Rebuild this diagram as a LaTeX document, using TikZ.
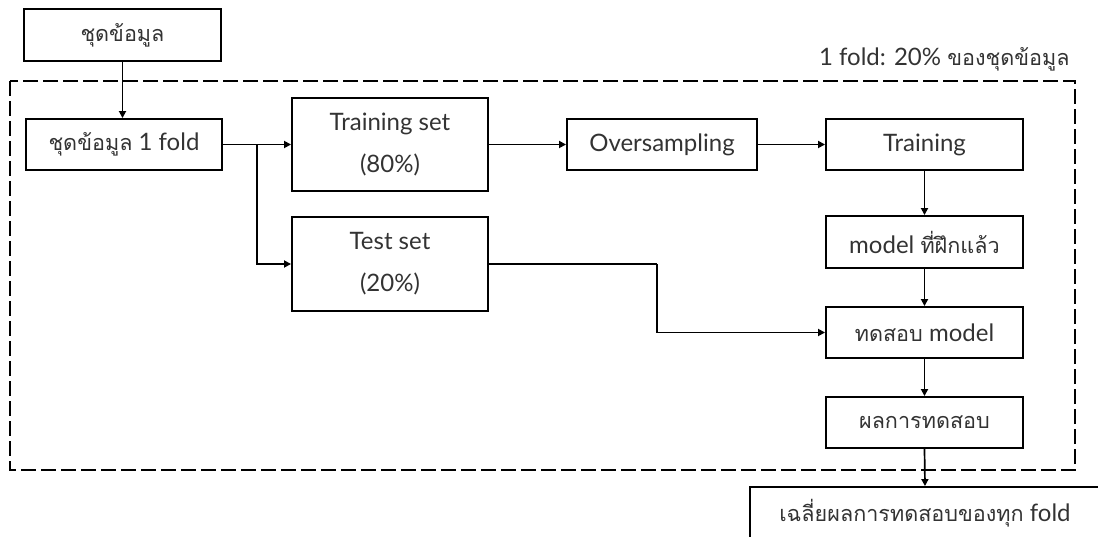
\documentclass[tikz,border=0pt]{standalone}
\usepackage{fontspec}
\setmainfont{Lato}
\newfontfamily\thai[Script=Thai, Scale=0.9]{Loma}
\usetikzlibrary{arrows.meta}
\definecolor{ink}{HTML}{333333}
\tikzset{
  stepbox/.style={draw=black, line width=1.9pt, text=ink, font=\fontsize{24}{42}\selectfont,
    inner sep=0pt, align=center, anchor=center},
  flow/.style={draw=black, line width=1.7pt, -{Triangle[length=7pt,width=7pt]}},
  plainline/.style={draw=black, line width=1.7pt},
  foldframe/.style={draw=black, line width=1.9pt, dash pattern=on 15pt off 5pt}
}
\begin{document}
\begin{tikzpicture}[x=1pt,y=-1pt]
  \useasboundingbox (0,0) rectangle (1098,537);
  \clip (0,0) rectangle (1098,537);

  % fold boundary
  \draw[foldframe] (10,81) rectangle (1075,470);
  \node[text=ink, font=\fontsize{24}{28}\selectfont, anchor=base east] (foldlabel) at (1073,66) {1 fold: 20\% {\thai ของชุดข้อมูล}};

  % process boxes
  \node[stepbox, minimum width=197pt, minimum height=52pt] (data) at (122.5,35) {\thai ชุดข้อมูล};
  \node[stepbox, minimum width=196pt, minimum height=51pt] (fold) at (124,144.5) {{\thai ชุดข้อมูล} 1 fold};
  \node[stepbox, minimum width=196pt, minimum height=93pt] (train) at (390,144.5) {Training set\\(80\%)};
  \node[stepbox, minimum width=196pt, minimum height=94pt] (test) at (390,264) {Test set\\(20\%)};
  \node[stepbox, minimum width=190pt, minimum height=51pt] (over) at (662,144.5) {Oversampling};
  \node[stepbox, minimum width=197pt, minimum height=51pt] (training) at (924.5,144.5) {Training};
  \node[stepbox, minimum width=197pt, minimum height=52pt] (model) at (924.5,242) {model {\thai ที่ฝึกแล้ว}};
  \node[stepbox, minimum width=197pt, minimum height=51pt] (testm) at (924.5,332.5) {{\thai ทดสอบ} model};
  \node[stepbox, minimum width=197pt, minimum height=51pt] (result) at (924.5,422.5) {\thai ผลการทดสอบ};
  \node[stepbox, minimum width=350pt, minimum height=52pt] (avg) at (925,513) {{\thai เฉลี่ยผลการทดสอบของทุก} fold};

  % connectors
  \coordinate (split) at (257,144.5);
  \coordinate (bend) at (657,264);
  \draw[flow] (data.south) -- (data.south |- fold.north);
  \draw[flow] (fold.east) -- (train.west);
  \draw[flow] (split) |- (test.west);
  \draw[flow] (train.east) -- (over.west);
  \draw[flow] (over.east) -- (training.west);
  \draw[flow] (training.south) -- (model.north);
  \draw[plainline] (test.east) -- (bend);
  \draw[flow] (bend) |- (testm.west);
  \draw[flow] (model.south) -- (testm.north);
  \draw[flow] (testm.south) -- (result.north);
  \draw[flow] (result.south) -- (avg.north);
\end{tikzpicture}
\end{document}
